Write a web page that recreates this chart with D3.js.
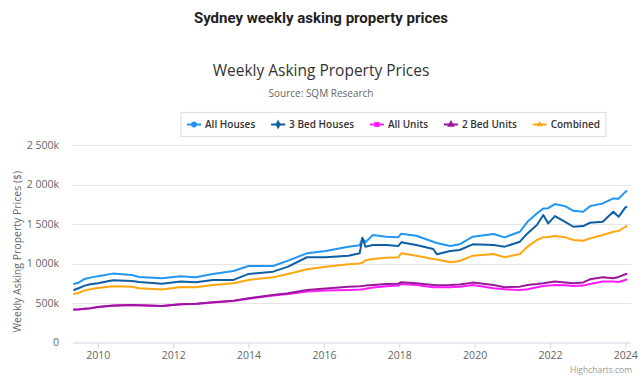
<!DOCTYPE html>
<html>
<head>
<meta charset="utf-8">
<script src="https://cdn.jsdelivr.net/npm/d3@7"></script>
<style>
  body { margin: 0; background: #fff; }
  svg text { font-family: "Open Sans", "Noto Sans", Arial, sans-serif; }
  .heading { font-family: Roboto, Arial, sans-serif !important; font-weight: 700; }
</style>
</head>
<body>
<svg id="chart" width="642" height="377"></svg>
<script>
// decimal years of the readings (shared by all series)
const dates = [2009.35, 2009.5, 2009.65, 2009.8, 2010.0, 2010.4, 2010.9, 2011.1, 2011.7, 2012.2,
  2012.6, 2013.05, 2013.6, 2014.0, 2014.65, 2015.05, 2015.55, 2016.05, 2016.65, 2016.95,
  2017.02, 2017.1, 2017.3, 2017.65, 2017.97, 2018.05, 2018.45, 2018.9, 2019.0, 2019.35,
  2019.6, 2019.95, 2020.5, 2020.8, 2021.2, 2021.4, 2021.65, 2021.82, 2021.95, 2022.13,
  2022.4, 2022.62, 2022.88, 2023.06, 2023.4, 2023.68, 2023.82, 2024.0, 2024.05];

// values in thousands of dollars
const allHouses = [738, 760, 805, 821, 840, 872, 855, 830, 813, 838,
  826, 868, 905, 969, 969, 1036, 1129, 1158, 1213, 1230,
  1318, 1270, 1360, 1339, 1331, 1377, 1351, 1276, 1260, 1221,
  1243, 1339, 1373, 1331, 1402, 1528, 1634, 1697, 1700, 1752,
  1726, 1667, 1654, 1726, 1760, 1824, 1820, 1907, 1925];
const threeBedHouses = [662, 690, 720, 738, 750, 788, 779, 767, 745, 771,
  763, 792, 792, 868, 897, 960, 1079, 1079, 1099, 1129,
  1326, 1213, 1234, 1234, 1221, 1268, 1234, 1183, 1116, 1158,
  1171, 1243, 1234, 1213, 1276, 1381, 1487, 1613, 1508, 1600,
  1528, 1465, 1474, 1516, 1528, 1654, 1591, 1710, 1720];
const allUnits = [415, 418, 426, 432, 448, 465, 474, 470, 461, 483,
  487, 505, 525, 555, 595, 615, 644, 657, 665, 670,
  672, 680, 695, 712, 720, 741, 729, 700, 698, 700,
  705, 729, 687, 674, 665, 674, 700, 716, 720, 729,
  725, 716, 720, 741, 771, 771, 765, 792, 800];
const twoBedUnits = [417, 420, 428, 434, 450, 467, 476, 472, 463, 485,
  489, 510, 530, 561, 602, 624, 665, 682, 707, 712,
  715, 720, 729, 741, 745, 763, 750, 729, 725, 729,
  735, 758, 729, 700, 707, 729, 740, 750, 760, 771,
  760, 750, 760, 800, 826, 813, 830, 864, 870];
const combined = [611, 630, 660, 674, 690, 712, 707, 687, 670, 703,
  700, 729, 750, 792, 826, 868, 927, 960, 990, 1000,
  1010, 1040, 1057, 1074, 1079, 1129, 1099, 1057, 1050, 1015,
  1032, 1099, 1120, 1079, 1120, 1213, 1297, 1331, 1335, 1348,
  1331, 1297, 1288, 1318, 1360, 1402, 1410, 1465, 1475];

const seriesNames = ["All Houses", "3 Bed Houses", "All Units", "2 Bed Units", "Combined"];
const yTicks = [0, 500, 1000, 1500, 2000, 2500];
const xTickYears = [2010, 2012, 2014, 2016, 2018, 2020, 2022, 2024];

const series = [
  { name: seriesNames[0], values: allHouses, color: "#2196f3", symbol: d3.symbolCircle },
  { name: seriesNames[1], values: threeBedHouses, color: "#0d5fa6", symbol: d3.symbolDiamond },
  { name: seriesNames[2], values: allUnits, color: "#ff1aff", symbol: d3.symbolSquare },
  { name: seriesNames[3], values: twoBedUnits, color: "#9c169c", symbol: d3.symbolTriangle },
  { name: seriesNames[4], values: combined, color: "#ffa611", symbol: d3.symbolTriangle2 }
];

function toDate(dy) {
  const y = Math.floor(dy);
  const start = new Date(y, 0, 1);
  return new Date(start.getTime() + (dy - y) * 365.25 * 864e5);
}

const svg = d3.select('#chart');
const plotLeft = 73, plotRight = 631, plotTop = 145, plotBottom = 342.5;

const x = d3.scaleTime()
  .domain([toDate(2009.34), toDate(2024.15)])
  .range([plotLeft, plotRight]);
const y = d3.scaleLinear()
  .domain([0, 2500])
  .range([plotBottom, plotTop]);

// titles
svg.append('text').attr('class', 'heading')
  .attr('x', 321).attr('y', 23).attr('text-anchor', 'middle')
  .attr('font-size', 15).attr('fill', '#222')
  .text('Sydney weekly asking property prices');
svg.append('text')
  .attr('x', 321).attr('y', 76).attr('text-anchor', 'middle')
  .attr('font-size', 15.5).attr('fill', '#333')
  .text('Weekly Asking Property Prices');
svg.append('text')
  .attr('x', 321).attr('y', 97).attr('text-anchor', 'middle')
  .attr('font-size', 10).attr('fill', '#666')
  .text('Source: SQM Research');

// grid
svg.append('g')
  .selectAll('line').data(yTicks.filter(d => d > 0)).join('line')
  .attr('x1', plotLeft).attr('x2', plotRight)
  .attr('y1', d => Math.round(y(d)) + 0.5).attr('y2', d => Math.round(y(d)) + 0.5)
  .attr('stroke', '#e6e6e6');

// y axis
const yAxis = svg.append('g')
  .attr('transform', `translate(${plotLeft - 11},0)`)
  .call(d3.axisLeft(y).tickValues(yTicks).tickSize(0)
    .tickFormat(d => d === 0 ? '0' : (d >= 1000 ? Math.floor(d / 1000) + ' ' + String(d % 1000).padStart(3, '0') : d) + 'k'));
yAxis.select('.domain').remove();
yAxis.selectAll('text').attr('font-size', 10.5).attr('fill', '#666').attr('dy', '0.32em');

svg.append('text')
  .attr('transform', `translate(21,${(plotTop + plotBottom) / 2 + 8}) rotate(-90)`)
  .attr('text-anchor', 'middle').attr('font-size', 10.5).attr('fill', '#666')
  .text('Weekly Asking Property Prices ($)');

// x axis
const xAxis = svg.append('g')
  .attr('transform', `translate(0,${plotBottom})`)
  .call(d3.axisBottom(x).tickValues(xTickYears.map(yr => new Date(yr, 0, 1)))
    .tickSize(6).tickPadding(3).tickFormat(d3.timeFormat('%Y')));
xAxis.select('.domain').attr('stroke', '#ccd6eb').attr('d', `M${plotLeft},0.5H${plotRight}`);
xAxis.selectAll('line').attr('stroke', '#ccd6eb');
xAxis.selectAll('text').attr('font-size', 10.5).attr('fill', '#666');

// lines
const line = d3.line()
  .x((d, i) => x(toDate(dates[i])))
  .y(d => y(d));
svg.append('g')
  .selectAll('path').data(series).join('path')
  .attr('d', s => line(s.values))
  .attr('fill', 'none')
  .attr('stroke', s => s.color)
  .attr('stroke-width', 2)
  .attr('stroke-linejoin', 'round');

// legend
const legend = svg.append('g');
const legendBox = legend.append('rect')
  .attr('fill', '#fff').attr('stroke', '#e0e0e0').attr('stroke-width', 1.2);
const items = legend.selectAll('g.item').data(series).join('g').attr('class', 'item');
const widths = [];
items.each(function(s) {
  const g = d3.select(this);
  g.append('line').attr('x1', 0).attr('x2', 14).attr('y1', 0).attr('y2', 0)
    .attr('stroke', s.color).attr('stroke-width', 2);
  g.append('path').attr('d', d3.symbol().type(s.symbol).size(26)())
    .attr('transform', 'translate(7,0)').attr('fill', s.color);
  const t = g.append('text').attr('x', 18).attr('dy', '0.35em')
    .attr('font-size', 10).attr('font-weight', 600).attr('fill', '#333').text(s.name);
  widths.push(18 + t.node().getComputedTextLength());
});
const legendX = 187, legendY = 124.5, legendW = 413;
const gap = (legendW - d3.sum(widths)) / (widths.length - 1);
let lx = 0;
items.attr('transform', (s, i) => {
  const tx = lx;
  lx += widths[i] + gap;
  return `translate(${tx},0)`;
});
legend.attr('transform', `translate(${legendX},${legendY})`);
legendBox.attr('x', -6).attr('y', -12).attr('width', legendW + 12).attr('height', 24);

// credit
svg.append('text')
  .attr('x', 632).attr('y', 373).attr('text-anchor', 'end')
  .attr('font-size', 8.5).attr('fill', '#999')
  .text('Highcharts.com');
</script>
</body>
</html>
